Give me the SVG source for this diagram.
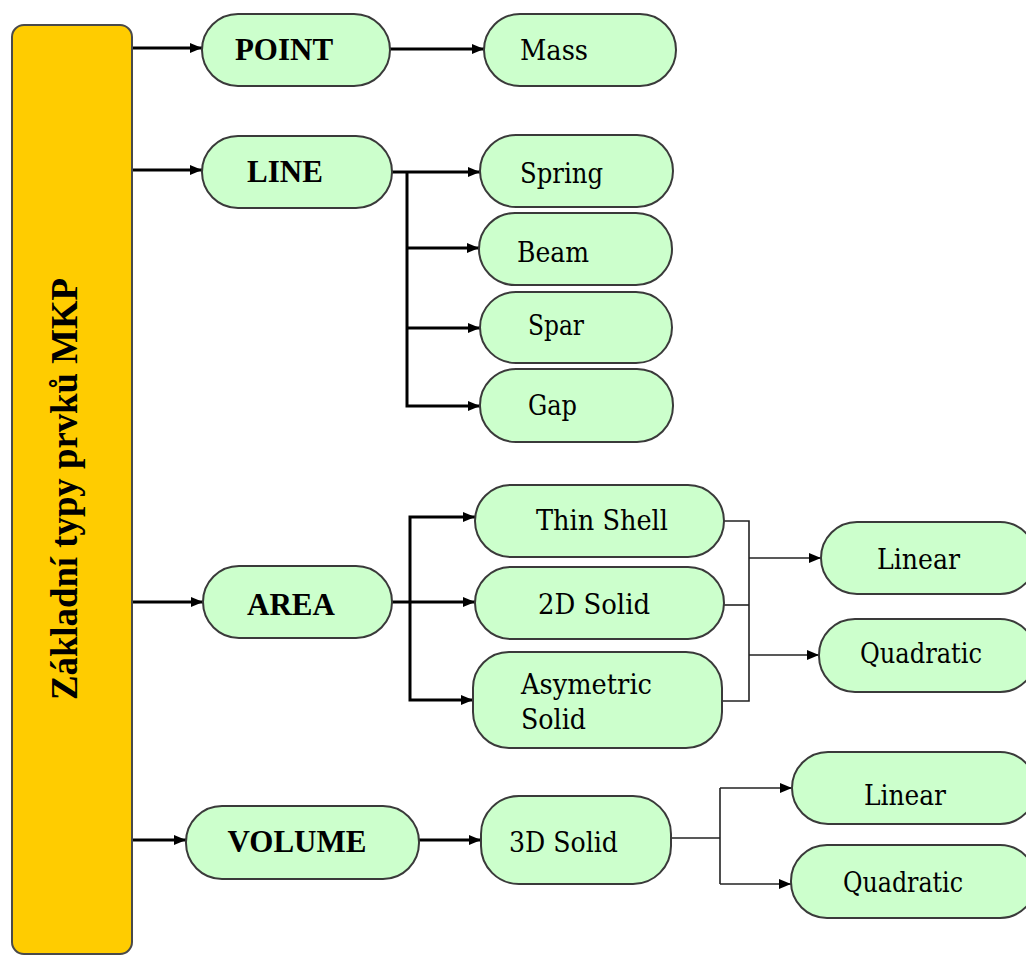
<svg xmlns="http://www.w3.org/2000/svg" width="1026" height="956" viewBox="0 0 1026 956">
  <defs>
    <marker id="arrow" markerUnits="userSpaceOnUse" markerWidth="13" markerHeight="11" refX="12" refY="5" orient="auto">
      <path d="M0,0 L12,5 L0,10 z" fill="#000"/>
    </marker>
    <style>
      .node rect { fill: #ccffcc; stroke: #3a3a3a; stroke-width: 2; }
      .root rect { fill: #ffcc00; stroke: #4a4a4a; stroke-width: 2; }
      text { font-family: "Liberation Serif", "Times New Roman", serif; font-size: 31px; fill: #000; }
      .r { font-family: "DejaVu Serif Condensed", "DejaVu Serif", serif; font-stretch: condensed; font-size: 28px; }
      .b { font-weight: bold; }
      .c { text-anchor: middle; }
      .thick { fill: none; stroke: #000; stroke-width: 3; }
      .thin { fill: none; stroke: #222; stroke-width: 1.6; }
    </style>
  </defs>
  <rect width="1026" height="956" fill="#fff"/>

  <!-- connectors -->
  <g id="connectors">
    <line class="thick" x1="132" y1="48" x2="202" y2="48" marker-end="url(#arrow)"/>
    <line class="thick" x1="390" y1="49" x2="484" y2="49" marker-end="url(#arrow)"/>
    <line class="thick" x1="132" y1="170" x2="202" y2="170" marker-end="url(#arrow)"/>
    <line class="thick" x1="392" y1="172" x2="480" y2="172" marker-end="url(#arrow)"/>
    <polyline class="thick" points="407,172 407,406 480,406" marker-end="url(#arrow)"/>
    <line class="thick" x1="407" y1="248" x2="479" y2="248" marker-end="url(#arrow)"/>
    <line class="thick" x1="407" y1="328" x2="480" y2="328" marker-end="url(#arrow)"/>
    <line class="thick" x1="132" y1="602" x2="203" y2="602" marker-end="url(#arrow)"/>
    <line class="thick" x1="392" y1="602" x2="475" y2="602" marker-end="url(#arrow)"/>
    <polyline class="thick" points="410,602 410,517 475,517" marker-end="url(#arrow)"/>
    <polyline class="thick" points="410,602 410,700 473,700" marker-end="url(#arrow)"/>
    <polyline class="thin" points="724,521 749,521 749,701 722,701"/>
    <line class="thin" x1="724" y1="605" x2="749" y2="605"/>
    <line class="thin" x1="749" y1="558" x2="821" y2="558" marker-end="url(#arrow)"/>
    <line class="thin" x1="749" y1="655" x2="819" y2="655" marker-end="url(#arrow)"/>
    <line class="thick" x1="132" y1="840" x2="186" y2="840" marker-end="url(#arrow)"/>
    <line class="thick" x1="419" y1="840" x2="481" y2="840" marker-end="url(#arrow)"/>
    <line class="thin" x1="671" y1="838" x2="720" y2="838"/>
    <polyline class="thin" points="720,788 720,884"/>
    <line class="thin" x1="720" y1="788" x2="792" y2="788" marker-end="url(#arrow)"/>
    <line class="thin" x1="720" y1="884" x2="791" y2="884" marker-end="url(#arrow)"/>
  </g>

  <!-- root -->
  <g id="root" class="root">
    <rect x="12" y="25" width="120" height="929" rx="12"/>
    <text class="b c" style="font-size:37px" transform="translate(77,489) rotate(-90)" textLength="422" lengthAdjust="spacingAndGlyphs">Základní typy prvků MKP</text>
  </g>

  <!-- level 1 -->
  <g id="point" class="node"><rect x="202" y="14" width="188" height="72" rx="36"/><text class="b c" x="284" y="60">POINT</text></g>
  <g id="line" class="node"><rect x="202" y="136" width="190" height="72" rx="36"/><text class="b c" x="285" y="182">LINE</text></g>
  <g id="area" class="node"><rect x="203" y="566" width="189" height="72" rx="36"/><text class="b c" x="291" y="615">AREA</text></g>
  <g id="volume" class="node"><rect x="186" y="806" width="233" height="73" rx="36"/><text class="b c" x="297" y="852">VOLUME</text></g>

  <!-- level 2 -->
  <g id="mass" class="node"><rect x="484" y="14" width="192" height="72" rx="36"/><text class="r" x="520" y="60" textLength="68" lengthAdjust="spacingAndGlyphs">Mass</text></g>
  <g id="spring" class="node"><rect x="480" y="135" width="193" height="72" rx="36"/><text class="r" x="520" y="183" textLength="83" lengthAdjust="spacingAndGlyphs">Spring</text></g>
  <g id="beam" class="node"><rect x="479" y="213" width="193" height="72" rx="36"/><text class="r" x="517" y="262" textLength="72" lengthAdjust="spacingAndGlyphs">Beam</text></g>
  <g id="spar" class="node"><rect x="480" y="292" width="192" height="71" rx="36"/><text class="r" x="528" y="335" textLength="56" lengthAdjust="spacingAndGlyphs">Spar</text></g>
  <g id="gap" class="node"><rect x="480" y="369" width="193" height="73" rx="36"/><text class="r" x="528" y="415" textLength="49" lengthAdjust="spacingAndGlyphs">Gap</text></g>
  <g id="thin-shell" class="node"><rect x="475" y="485" width="249" height="72" rx="36"/><text class="r" x="536" y="530" textLength="132" lengthAdjust="spacingAndGlyphs">Thin Shell</text></g>
  <g id="solid-2d" class="node"><rect x="475" y="567" width="249" height="72" rx="36"/><text class="r" x="538" y="614" textLength="112" lengthAdjust="spacingAndGlyphs">2D Solid</text></g>
  <g id="asymetric-solid" class="node"><rect x="473" y="652" width="249" height="96" rx="36"/><text class="r" x="521" y="694" textLength="131" lengthAdjust="spacingAndGlyphs">Asymetric</text><text class="r" x="521" y="729" textLength="65" lengthAdjust="spacingAndGlyphs">Solid</text></g>
  <g id="solid-3d" class="node"><rect x="481" y="796" width="190" height="88" rx="38"/><text class="r" x="509" y="852" textLength="109" lengthAdjust="spacingAndGlyphs">3D Solid</text></g>

  <!-- level 3 -->
  <g id="area-linear" class="node"><rect x="821" y="522" width="215" height="72" rx="36"/><text class="r" x="877" y="569" textLength="83" lengthAdjust="spacingAndGlyphs">Linear</text></g>
  <g id="area-quadratic" class="node"><rect x="819" y="619" width="217" height="73" rx="36"/><text class="r" x="860" y="663" textLength="122" lengthAdjust="spacingAndGlyphs">Quadratic</text></g>
  <g id="volume-linear" class="node"><rect x="792" y="752" width="244" height="72" rx="36"/><text class="r" x="864" y="805" textLength="82" lengthAdjust="spacingAndGlyphs">Linear</text></g>
  <g id="volume-quadratic" class="node"><rect x="791" y="845" width="245" height="73" rx="36"/><text class="r" x="843" y="892" textLength="120" lengthAdjust="spacingAndGlyphs">Quadratic</text></g>
</svg>
